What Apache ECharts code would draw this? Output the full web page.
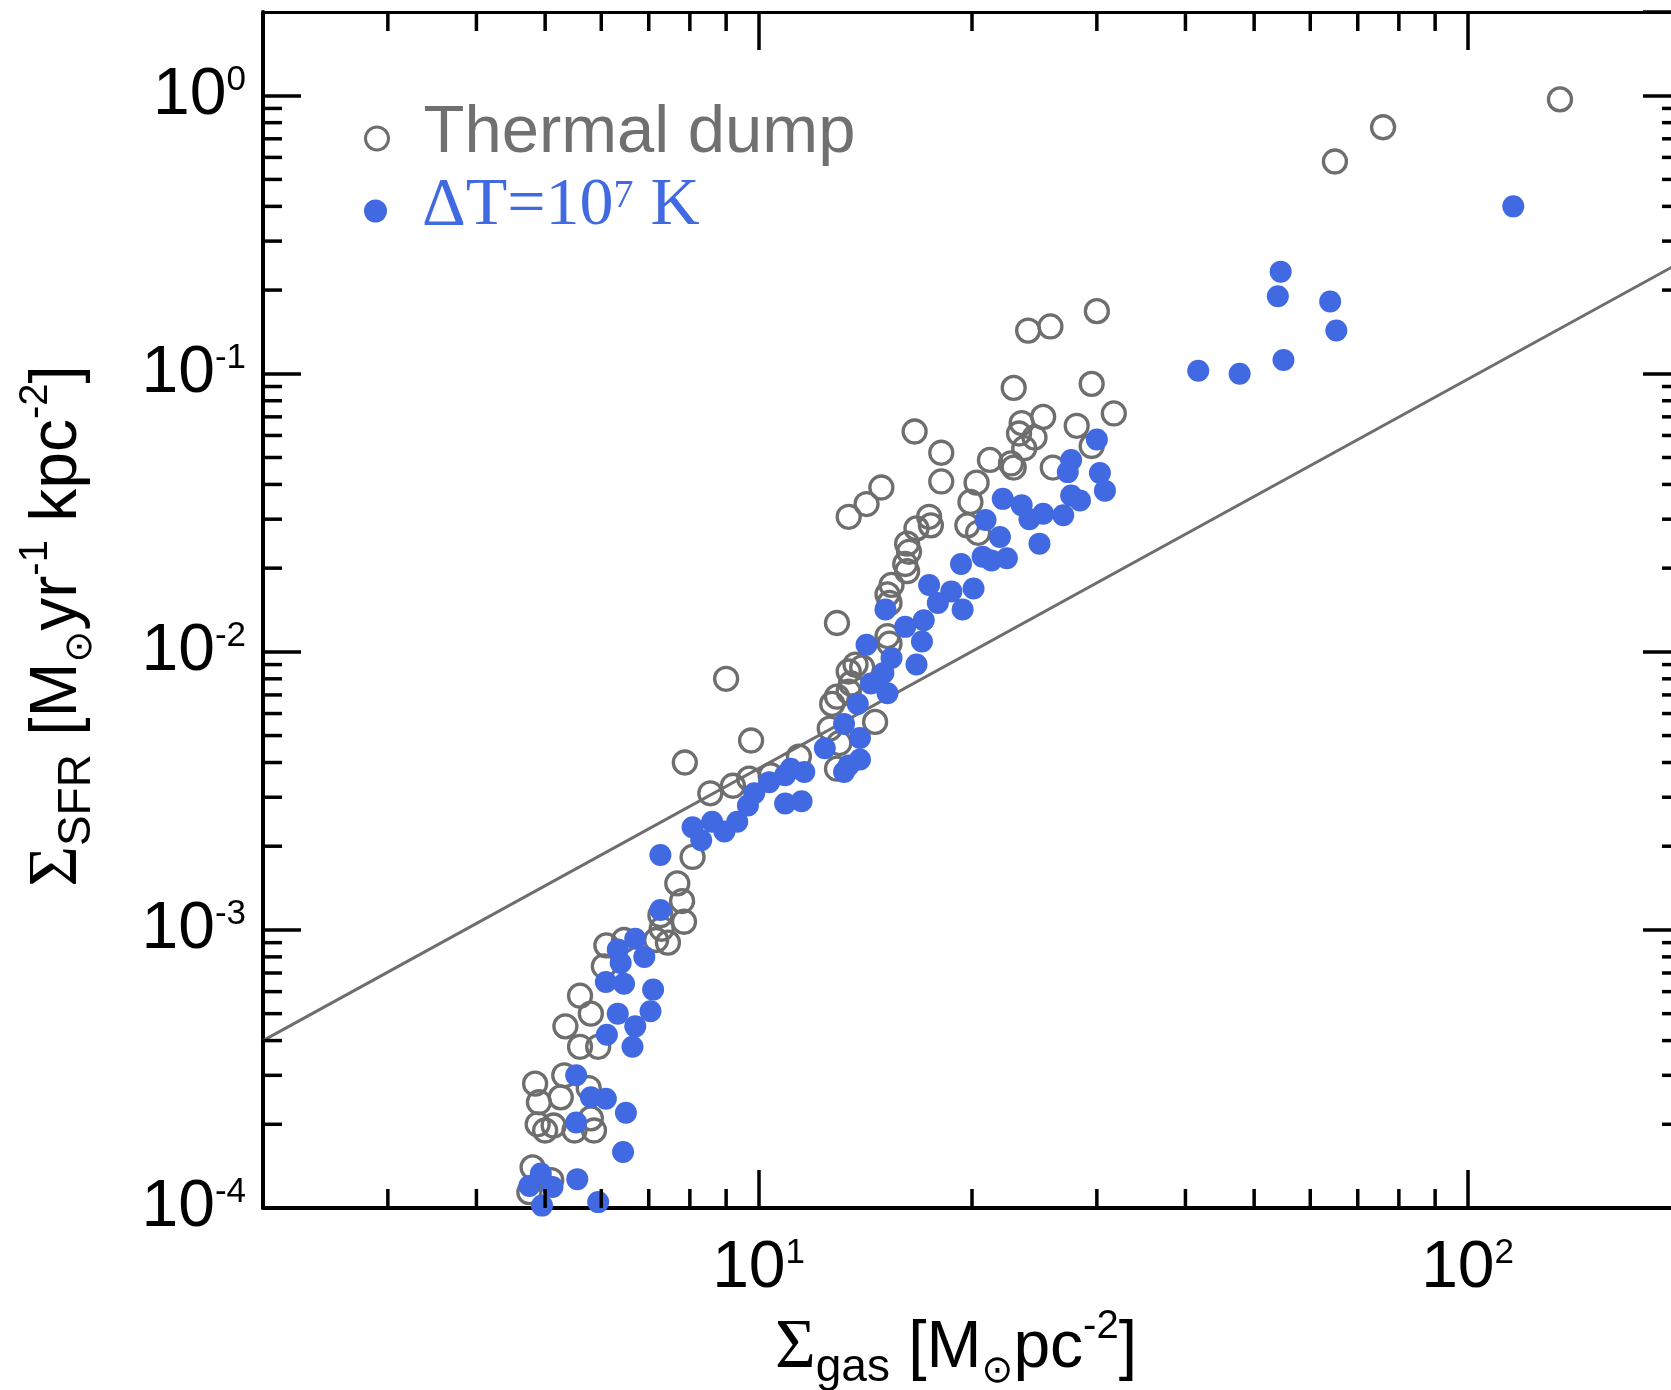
<!DOCTYPE html>
<html><head><meta charset="utf-8">
<script src="https://cdn.jsdelivr.net/npm/echarts@6/dist/echarts.min.js"></script>
<style>html,body{margin:0;padding:0;background:#fff}#c{width:1671px;height:1390px}</style>
</head><body><div id="c"></div>
<script>
// ---- data ----
const thermalX = [135,76,65,30,24,25.8,22.9,29.5,31.7,25.2,23.5,28.1,23.3,24.5,23.7,29.5,21.2,22.7,22.9,26,
  16.6,18.1,18.1,20.3,19.9,19.7,20.4,14.9,14.2,13.4,17.4,17.5,16.7,16.2,16.3,16.1,16.2,15.4,15.2,15.3,
  12.9,15.2,15.3,13.7,13.4,14.0,13.5,12.9,12.7,13.4,12.6,14.6,13.0,11.4,12.9,9.0,9.76,7.87,8.55,9.2,
  9.7,10.4,8.07,7.68,7.8,7.27,7.85,7.3,7.45,7.17,6.1,6.46,6.05,5.6,5.8,5.34,5.6,5.94,4.84,5.32,
  5.76,4.9,5.26,4.88,5.0,5.14,5.5,5.86,5.8,4.8,5.1,4.75];
const thermalY = [0.97,0.77,0.58,0.168,0.143,0.148,0.089,0.092,0.072,0.070,0.0665,0.065,0.061,0.059,0.054,0.055,0.049,0.0476,0.046,0.046,
  0.062,0.052,0.041,0.0406,0.0346,0.0285,0.0268,0.039,0.034,0.0306,0.0306,0.0285,0.0278,0.0245,0.0229,0.0207,0.0195,0.0174,0.0161,0.0150,
  0.0127,0.0114,0.0107,0.0090,0.0085,0.0088,0.0077,0.0069,0.0065,0.0072,0.0053,0.0056,0.0047,0.0042,0.0038,0.0080,0.0048,0.0040,0.0031,0.0033,
  0.0035,0.0036,0.00183,0.00147,0.00127,0.00113,0.00107,0.00101,0.00090,0.00092,0.00088,0.00092,0.00074,0.00058,0.00050,0.00045,0.00038,0.00038,0.00028,0.00030,
  0.00027,0.00024,0.00025,0.00020,0.00019,0.000198,0.00019,0.00019,0.00021,0.00014,0.000126,0.000114];

const dTX = [116,54.5,54,64,65.3,55,41.7,47.7,30,27.6,27.3,30.3,30.8,27.6,28.4,22.1,23.5,24.1,25.2,26.9,
  20.9,21.9,24.9,22.4,21.3,19.3,20.7,17.4,18.7,20.1,17.9,19.4,17.1,15.1,16.1,17.0,14.2,16.7,15.4,15.0,
  14.4,15.2,13.8,13.2,13.9,12.4,13.9,13.2,11.6,7.27,8.07,8.3,8.6,8.95,9.33,9.66,9.86,10.35,10.9,11.1,
  10.9,11.5,13.4,7.27,6.7,6.33,6.9,6.39,6.09,6.46,7.1,6.33,7.04,6.7,6.11,6.64,5.53,5.8,6.09,6.5,
  5.53,6.44,5.55,4.93,4.75,5.12,4.95,5.94];
const dTY = [0.40,0.233,0.19,0.182,0.143,0.112,0.1025,0.100,0.058,0.049,0.0443,0.044,0.038,0.0365,0.035,0.0355,0.0337,0.030,0.0314,0.031,
  0.0298,0.0259,0.0245,0.0217,0.0213,0.0207,0.022,0.0174,0.0165,0.0169,0.0150,0.0142,0.0130,0.0142,0.0123,0.0109,0.0106,0.0090,0.0095,0.0084,
  0.0077,0.0071,0.0065,0.0055,0.0049,0.0045,0.0041,0.0037,0.0037,0.00186,0.00234,0.0021,0.00245,0.00226,0.00245,0.0028,0.0031,0.0034,0.0036,0.0038,
  0.00285,0.0029,0.0039,0.00118,0.00093,0.00085,0.00080,0.00076,0.00065,0.00064,0.00061,0.00050,0.00051,0.00045,0.00042,0.00038,0.00030,0.00025,0.000247,0.00022,
  0.000203,0.000159,0.000127,0.000133,0.00012,0.000119,0.000102,0.000105];

// Kennicutt–Schmidt relation end points
const ksX = [2, 200];
const ksY = [4.0e-4, 0.252];

// minor tick values
const xMinorTicks = [3,4,5,6,7,8,9,20,30,40,50,60,70,80,90];
const yMinorTicks = [0.0002,0.0003,0.0004,0.0005,0.0006,0.0007,0.0008,0.0009,
  0.002,0.003,0.004,0.005,0.006,0.007,0.008,0.009,
  0.02,0.03,0.04,0.05,0.06,0.07,0.08,0.09,
  0.2,0.3,0.4,0.5,0.6,0.7,0.8,0.9];

const seriesNames = ['Thermal dump', 'ΔT=10⁷ K'];

// ---- chart ----
const FONT = "'Liberation Sans', Arial, Helvetica, sans-serif";
const SERIF = "'Liberation Serif', 'Times New Roman', serif";
const GRAY = '#6e6e6e';
const BLUE = '#4169e1';
const X_MIN = 2, X_MAX = 200, Y_MIN = 1e-4, Y_MAX = 2;

function powLabel(v) {
  const l = Math.log10(v);
  const e = Math.round(l);
  if (Math.abs(l - e) > 1e-6) return '';
  return '{b|10}{s|' + e + '}';
}
const labelRich = {
  b: {fontSize: 66, fontFamily: FONT, color: '#000', lineHeight: 66, verticalAlign: 'middle'},
  s: {fontSize: 35, fontFamily: FONT, color: '#000', lineHeight: 35, verticalAlign: 'top'}
};
const nameRich = {
  S: {fontSize: 70, fontFamily: SERIF, color: '#000', lineHeight: 66, verticalAlign: 'middle'},
  t: {fontSize: 66, fontFamily: FONT, color: '#000', lineHeight: 66, verticalAlign: 'middle'},
  e: {fontSize: 66, fontFamily: FONT, color: '#000', lineHeight: 84, verticalAlign: 'middle', padding: [0, 32, 0, 0]},
  sub: {fontSize: 46, fontFamily: FONT, color: '#000', lineHeight: 46, verticalAlign: 'bottom'},
  sup: {fontSize: 40, fontFamily: FONT, color: '#000', lineHeight: 40, verticalAlign: 'top'},
  sun: {fontSize: 38, fontFamily: "'DejaVu Sans', sans-serif", color: '#000', lineHeight: 38, verticalAlign: 'bottom'}
};

const tickData = [];
xMinorTicks.forEach(v => tickData.push([v, Y_MIN, 0]));
yMinorTicks.forEach(v => tickData.push([X_MIN, v, 1]));

const chart = echarts.init(document.getElementById('c'), null, {renderer: 'canvas', width: 1671, height: 1390});
chart.setOption({
  animation: false,
  backgroundColor: '#fff',
  textStyle: {fontFamily: FONT},
  grid: {left: 263, top: 12, width: 1418, height: 1196, containLabel: false, outerBoundsMode: 'none'},
  legend: [
    {
      data: [{name: seriesNames[0], icon: 'circle',
        itemStyle: {color: 'rgba(0,0,0,0)', borderColor: GRAY, borderWidth: 3}}],
      left: 364, top: 100, padding: 0, itemWidth: 23, itemHeight: 23, selectedMode: false,
      formatter: n => '{a|' + n + '}',
      textStyle: {rich: {a: {fontSize: 67, fontFamily: FONT, color: '#707070', lineHeight: 70, padding: [0, 0, 10, 30]}}}
    },
    {
      data: [{name: seriesNames[1], icon: 'circle', itemStyle: {color: BLUE, borderWidth: 0}}],
      left: 364, top: 172, padding: 0, itemWidth: 23, itemHeight: 23, selectedMode: false,
      formatter: () => '{a0|ΔT=10}{s|7}{a| K}',
      textStyle: {rich: {
        a0: {fontSize: 68, fontFamily: SERIF, color: BLUE, lineHeight: 70, padding: [0, 0, 10, 30]},
        a: {fontSize: 68, fontFamily: SERIF, color: BLUE, lineHeight: 70, padding: [0, 0, 10, 0]},
        s: {fontSize: 40, fontFamily: SERIF, color: BLUE, lineHeight: 40, verticalAlign: 'top'}
      }}
    }
  ],
  xAxis: [
    {
      type: 'log', logBase: 10, min: X_MIN, max: X_MAX, position: 'bottom',
      axisLine: {show: true, lineStyle: {color: '#000', width: 4}},
      axisTick: {show: true, inside: true, length: 38, lineStyle: {color: '#000', width: 3.5}},
      axisLabel: {show: true, margin: 28, formatter: powLabel, rich: labelRich, showMinLabel: false, showMaxLabel: false},
      splitLine: {show: false}, minorTick: {show: false}, minorSplitLine: {show: false},
      name: '{S|Σ}{sub|gas}{t| [M}{sun|⊙}{t|pc}{sup|-2}{e|]}',
      nameLocation: 'middle', nameGap: 94,
      nameTextStyle: {rich: nameRich}
    },
    {
      type: 'log', logBase: 10, min: X_MIN, max: X_MAX, position: 'top',
      axisLine: {show: true, lineStyle: {color: '#000', width: 3}},
      axisTick: {show: true, inside: true, length: 38, lineStyle: {color: '#000', width: 3.5}},
      axisLabel: {show: false}, splitLine: {show: false}
    }
  ],
  yAxis: [
    {
      type: 'log', logBase: 10, min: Y_MIN, max: Y_MAX, position: 'left',
      axisLine: {show: true, lineStyle: {color: '#000', width: 4}},
      axisTick: {show: true, inside: true, length: 38, lineStyle: {color: '#000', width: 3.5}},
      axisLabel: {show: true, margin: 17, formatter: powLabel, rich: labelRich, showMinLabel: true, showMaxLabel: false},
      splitLine: {show: false}, minorTick: {show: false},
      name: '{S|Σ}{sub|SFR}{t| [M}{sun|⊙}{t|yr}{sup|-1}{t| kpc}{sup|-2}{e|]}',
      nameLocation: 'middle', nameRotate: 90, nameGap: 163,
      nameTextStyle: {rich: nameRich}
    },
    {
      type: 'log', logBase: 10, min: Y_MIN, max: Y_MAX, position: 'right',
      axisLine: {show: true, lineStyle: {color: '#000', width: 3}},
      axisTick: {show: true, inside: true, length: 38, lineStyle: {color: '#000', width: 3.5}},
      axisLabel: {show: false}, splitLine: {show: false}
    }
  ],
  series: [
    {
      name: 'KS', type: 'line', xAxisIndex: 0, yAxisIndex: 0, silent: true,
      data: ksX.map((x, i) => [x, ksY[i]]),
      symbol: 'none', lineStyle: {color: GRAY, width: 3}, z: 1
    },
    {
      name: seriesNames[0], type: 'scatter', xAxisIndex: 0, yAxisIndex: 0,
      data: thermalX.map((x, i) => [x, thermalY[i]]),
      symbol: 'circle', symbolSize: 23,
      itemStyle: {color: 'rgba(0,0,0,0)', borderColor: GRAY, borderWidth: 3.3, opacity: 1}, z: 2
    },
    {
      name: seriesNames[1], type: 'scatter', xAxisIndex: 0, yAxisIndex: 0,
      data: dTX.map((x, i) => [x, dTY[i]]),
      symbol: 'circle', symbolSize: 22,
      itemStyle: {color: BLUE, opacity: 1}, z: 3
    },
    {
      name: 'minorTicks', type: 'custom', xAxisIndex: 0, yAxisIndex: 0, silent: true, clip: false, z: 5,
      data: tickData, encode: {x: 0, y: 1},
      renderItem: function (params, api) {
        const cs = params.coordSys;
        const kind = api.value(2);
        const L = 19;
        const st = {stroke: '#000', lineWidth: 3.5};
        if (kind === 0) {
          const px = api.coord([api.value(0), api.value(1)])[0];
          return {type: 'group', children: [
            {type: 'line', shape: {x1: px, y1: cs.y + cs.height, x2: px, y2: cs.y + cs.height - L}, style: st},
            {type: 'line', shape: {x1: px, y1: cs.y, x2: px, y2: cs.y + L}, style: st}
          ]};
        } else {
          const py = api.coord([api.value(0), api.value(1)])[1];
          return {type: 'group', children: [
            {type: 'line', shape: {x1: cs.x, y1: py, x2: cs.x + L, y2: py}, style: st},
            {type: 'line', shape: {x1: cs.x + cs.width, y1: py, x2: cs.x + cs.width - L, y2: py}, style: st}
          ]};
        }
      }
    }
  ]
});
</script>
</body></html>
